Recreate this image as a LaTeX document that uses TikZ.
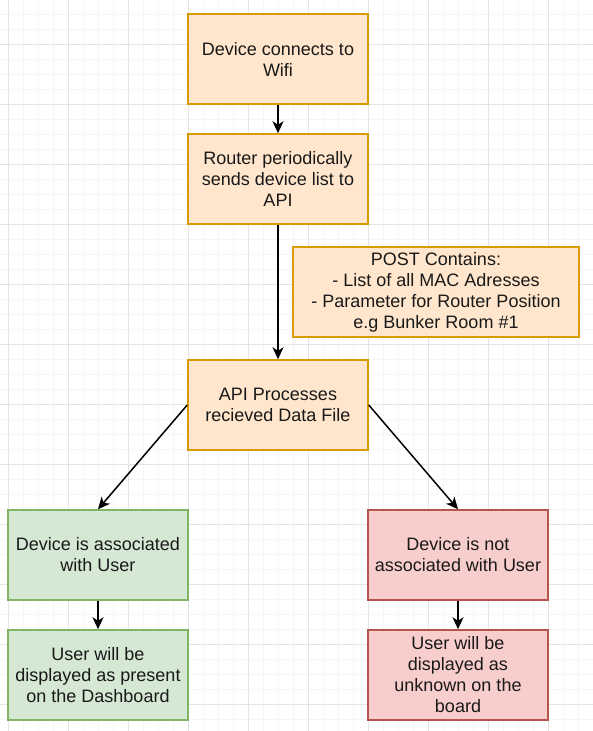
\documentclass[tikz,border=0pt]{standalone}
\usepackage{fontspec}
\setmainfont{Liberation Sans}
\usetikzlibrary{arrows.meta}
\definecolor{orangefill}{HTML}{FFE6CC}
\definecolor{orangeline}{HTML}{D79B00}
\definecolor{greenfill}{HTML}{D5E8D4}
\definecolor{greenline}{HTML}{82B366}
\definecolor{redfill}{HTML}{F8CECC}
\definecolor{redline}{HTML}{B85450}
\definecolor{minorgrid}{HTML}{F6F6F6}
\definecolor{majorgrid}{HTML}{E4E4E4}
\tikzset{
    every node/.style={draw, line width=1.5pt, minimum width=180pt,
    	minimum height=90pt, inner sep=0pt, align=center,
    	font=\fontsize{18}{21}\selectfont, text=black!90}
}
\tikzset{
    every edge/.append style={line width=1.5pt,
    	-{Stealth[length=12pt,width=11pt,inset=3.5pt]}}
}
\tikzset{
	orangebox/.style={fill=orangefill, draw=orangeline},
	greenbox/.style={fill=greenfill, draw=greenline},
	redbox/.style={fill=redfill, draw=redline}
}

\begin{document}
\begin{tikzpicture}[x=1pt, y=-1pt]
	\useasboundingbox (0,0) rectangle (593,731);
	\fill[white] (0,0) rectangle (593,731);
	\foreach \x in {8,23,...,593} \draw[minorgrid, line width=1pt] (\x,0) -- (\x,731);
	\foreach \y in {14,29,...,731} \draw[minorgrid, line width=1pt] (0,\y) -- (593,\y);
	\foreach \x in {8,68,...,593} \draw[majorgrid, line width=1pt] (\x,0) -- (\x,731);
	\foreach \y in {44,104,...,731} \draw[majorgrid, line width=1pt] (0,\y) -- (593,\y);

	\node (1) [orangebox] at (278, 59) {Device connects to\\Wifi};
	\node (2) [orangebox] at (278, 179) {Router periodically\\sends device list to\\API};
	\node (post) [orangebox, minimum width=286pt] at (436, 292)
		{POST Contains:\\- List of all MAC Adresses\\- Parameter for Router Position\\e.g Bunker Room \#1};
	\node (3) [orangebox] at (278, 405) {API Processes\\recieved Data File};
	\node (4) [greenbox] at (98, 555) {Device is associated\\with User};
	\node (5) [greenbox] at (98, 675) {User will be\\displayed as present\\on the Dashboard};
	\node (6) [redbox] at (458, 555) {Device is not\\associated with User};
	\node (7) [redbox] at (458, 675) {User will be\\displayed as\\unknown on the\\board};

	\draw (1) edge (2); \draw (2) edge (3);
	\draw (3.west) edge (4.north); \draw (3.east) edge (6.north);
	\draw (4) edge (5); \draw (6) edge (7);
\end{tikzpicture}
\end{document}
